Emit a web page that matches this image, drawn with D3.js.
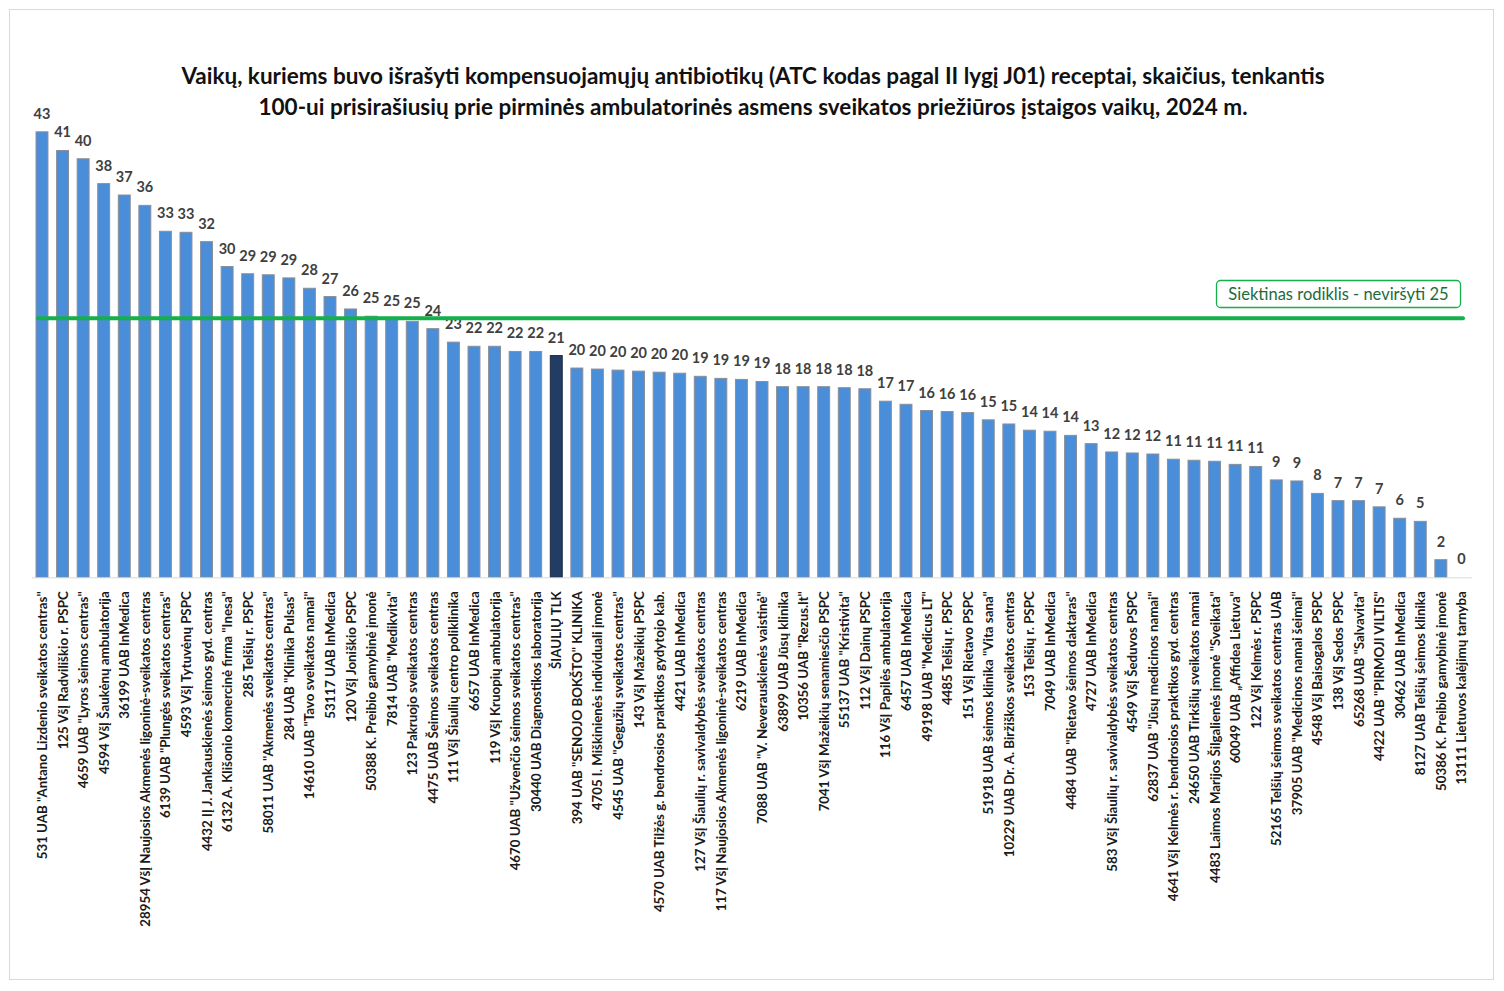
<!DOCTYPE html>
<html lang="lt">
<head>
<meta charset="utf-8">
<title>Vaikų antibiotikų receptai</title>
<script src="https://cdn.jsdelivr.net/npm/d3@7"></script>
<style>
    html, body { margin: 0; padding: 0; background: #fff; }
    svg { display: block; font-family: Lato, "Open Sans", sans-serif; }
</style>
</head>
<body>
<div id="chart"></div>
<script>
// title lines
const titleLines = [
    'Vaikų, kuriems buvo išrašyti kompensuojamųjų antibiotikų (ATC kodas pagal II lygį J01) receptai, skaičius, tenkantis',
    '100-ui prisirašiusių prie pirminės ambulatorinės asmens sveikatos priežiūros įstaigos vaikų, 2024 m.'
];

// institutions (x axis categories)
const categories = [
    '531 UAB "Antano Lizdenio sveikatos centras"',
    '125 VšĮ Radviliškio r. PSPC',
    '4659 UAB "Lyros šeimos centras"',
    '4594 VšĮ Šaukėnų ambulatorija',
    '36199 UAB InMedica',
    '28954 VšĮ Naujosios Akmenės ligoninė-sveikatos centras',
    '6139 UAB "Plungės sveikatos centras"',
    '4593 VšĮ Tytuvėnų PSPC',
    '4432 IĮ J. Jankauskienės šeimos gyd. centras',
    '6132 A. Klišonio komercinė firma "Inesa"',
    '285 Telšių r. PSPC',
    '58011 UAB "Akmenės sveikatos centras"',
    '284 UAB "Klinika Pulsas"',
    '14610 UAB "Tavo sveikatos namai"',
    '53117 UAB InMedica',
    '120 VšĮ Joniškio PSPC',
    '50388 K. Preibio gamybinė įmonė',
    '7814 UAB "Medikvita"',
    '123 Pakruojo sveikatos centras',
    '4475 UAB Šeimos sveikatos centras',
    '111 VšĮ Šiaulių centro poliklinika',
    '6657 UAB InMedica',
    '119 VšĮ Kruopių ambulatorija',
    '4670 UAB "Užvenčio šeimos sveikatos centras"',
    '30440 UAB Diagnostikos laboratorija',
    'ŠIAULIŲ TLK',
    '394 UAB "SENOJO BOKŠTO" KLINIKA',
    '4705 I. Miškinienės individuali įmonė',
    '4545 UAB "Gegužių sveikatos centras"',
    '143 VšĮ Mažeikių PSPC',
    '4570 UAB Tilžės g. bendrosios praktikos gydytojo kab.',
    '4421 UAB InMedica',
    '127 VšĮ Šiaulių r. savivaldybės sveikatos centras',
    '117 VšĮ Naujosios Akmenės ligoninė-sveikatos centras',
    '6219 UAB InMedica',
    '7088 UAB "V. Neverauskienės vaistinė"',
    '63899 UAB Jūsų klinika',
    '10356 UAB "Rezus.lt"',
    '7041 VšĮ Mažeikių senamiesčio PSPC',
    '55137 UAB "Kristivita"',
    '112 VšĮ Dainų PSPC',
    '116 VšĮ Papilės ambulatorija',
    '6457 UAB InMedica',
    '49198 UAB "Medicus LT"',
    '4485 Telšių r. PSPC',
    '151 VšĮ Rietavo PSPC',
    '51918 UAB šeimos klinika "Vita sana"',
    '10229 UAB Dr. A. Biržiškos sveikatos centras',
    '153 Telšių r. PSPC',
    '7049 UAB InMedica',
    '4484 UAB "Rietavo šeimos daktaras"',
    '4727 UAB InMedica',
    '583 VšĮ Šiaulių r. savivaldybės sveikatos centras',
    '4549 VšĮ Šeduvos PSPC',
    '62837 UAB "Jūsų medicinos namai"',
    '4641 VšĮ Kelmės r. bendrosios praktikos gyd. centras',
    '24650 UAB Tirkšlių sveikatos namai',
    '4483 Laimos Marijos Šilgalienės įmonė "Sveikata"',
    '60049 UAB „Affidea Lietuva"',
    '122 VšĮ Kelmės r. PSPC',
    '52165 Telšių šeimos sveikatos centras UAB',
    '37905 UAB "Medicinos namai šeimai"',
    '4548 VšĮ Baisogalos PSPC',
    '138 VšĮ Sedos PSPC',
    '65268 UAB "Salvavita"',
    '4422 UAB "PIRMOJI VILTIS"',
    '30462 UAB InMedica',
    '8127 UAB Telšių šeimos klinika',
    '50386 K. Preibio gamybinė įmonė',
    '13111 Lietuvos kalėjimų tarnyba'
];

// children with antibiotic prescriptions per 100 registered children
const values = [
    43.0, 41.2, 40.4, 38.0, 36.9, 35.9, 33.4, 33.3, 32.4, 30.0,
    29.3, 29.2, 28.9, 27.9, 27.1, 25.9, 25.2, 24.9, 24.7, 24.0,
    22.7, 22.3, 22.3, 21.8, 21.8, 21.4, 20.2, 20.1, 20.0, 19.9,
    19.8, 19.7, 19.4, 19.2, 19.1, 18.9, 18.4, 18.4, 18.4, 18.3,
    18.2, 17.0, 16.7, 16.1, 16.0, 15.9, 15.2, 14.8, 14.2, 14.1,
    13.7, 12.9, 12.1, 12.0, 11.9, 11.4, 11.3, 11.2, 10.9, 10.7,
    9.4, 9.3, 8.1, 7.4, 7.4, 6.8, 5.7, 5.4, 1.7, 0
];

// the regional total is drawn darker
const highlighted = ['ŠIAULIŲ TLK'];

// target indicator
const targetValue = 25;
const targetLabel = 'Siektinas rodiklis - neviršyti 25';

const data = categories.map((c, i) => ({ name: c, value: values[i] }));

const width = 1504, height = 991;

const svg = d3.select('#chart').append('svg')
    .attr('width', width)
    .attr('height', height)
    .attr('viewBox', `0 0 ${width} ${height}`);

// outer frame
svg.append('rect')
    .attr('x', 9.5).attr('y', 9.5)
    .attr('width', 1484).attr('height', 970)
    .attr('fill', '#fff')
    .attr('stroke', '#d9d9d9');

// title
svg.append('g').selectAll('text')
    .data(titleLines)
    .join('text')
    .attr('x', 753)
    .attr('y', (d, i) => 84 + i * 31)
    .attr('text-anchor', 'middle')
    .style('font-size', '22.5px')
    .style('font-weight', 700)
    .attr('fill', '#111')
    .text(d => d);

// scales
const scaleX = d3.scaleBand(categories, [31.7, 1471.7])
    .paddingInner(0.42)
    .paddingOuter(0.21);
const scaleY = d3.scaleLinear([0, 50], [577.3, 59.3]);

// bars
svg.append('g').selectAll('rect')
    .data(data)
    .join('rect')
    .attr('x', d => scaleX(d.name))
    .attr('y', d => scaleY(d.value))
    .attr('width', scaleX.bandwidth())
    .attr('height', d => scaleY(0) - scaleY(d.value))
    .attr('fill', d => highlighted.includes(d.name) ? '#213d63' : '#4a8dd9')
    .attr('stroke', d => highlighted.includes(d.name) ? '#1a2a40' : '#8a8f99')
    .attr('stroke-width', 1);

// value labels
svg.append('g').selectAll('text')
    .data(data)
    .join('text')
    .attr('x', d => scaleX(d.name) + scaleX.bandwidth() / 2)
    .attr('y', d => scaleY(d.value) - 13)
    .attr('text-anchor', 'middle')
    .style('font-size', '14.5px')
    .style('font-weight', 700)
    .attr('fill', '#404040')
    .text(d => d3.format('.0f')(d.value));

// category axis
const axisX = svg.append('g')
    .attr('transform', `translate(0,${scaleY(0)})`)
    .call(d3.axisBottom(scaleX).tickSize(0).tickPadding(0));
axisX.select('.domain')
    .attr('d', 'M32,0.5H1472')
    .attr('stroke', '#d9d9d9');
axisX.selectAll('.tick text')
    .attr('transform', 'rotate(-90)')
    .attr('x', -14)
    .attr('y', 0)
    .attr('dy', '0.38em')
    .attr('text-anchor', 'end')
    .style('font-family', 'Lato, sans-serif')
    .style('font-size', '13.3px')
    .style('font-weight', 700)
    .attr('fill', '#1a1a1a');

// target line and its label
svg.append('line')
    .attr('x1', 38).attr('x2', 1463)
    .attr('y1', scaleY(targetValue)).attr('y2', scaleY(targetValue))
    .attr('stroke', '#14b04c')
    .attr('stroke-width', 4)
    .attr('stroke-linecap', 'round');

svg.append('rect')
    .attr('x', 1216.5).attr('y', 280.5)
    .attr('width', 244).attr('height', 27)
    .attr('rx', 4)
    .attr('fill', '#fff')
    .attr('stroke', '#14b04c')
    .attr('stroke-width', 1.3);

svg.append('text')
    .attr('x', 1338.5).attr('y', 299.5)
    .attr('text-anchor', 'middle')
    .style('font-size', '16.5px')
    .attr('fill', '#1d6b3a')
    .text(targetLabel);
</script>
</body>
</html>
